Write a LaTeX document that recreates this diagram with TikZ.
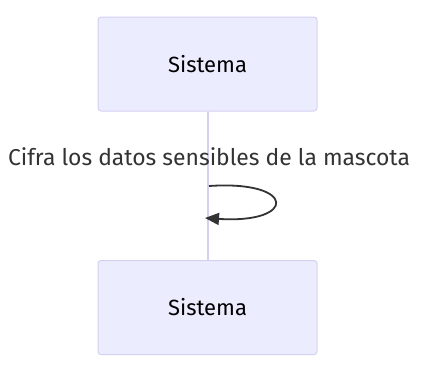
\documentclass[tikz,border=0pt]{standalone}
\usepackage{fontspec}
\setmainfont{Fira Sans}
\usetikzlibrary{arrows.meta}
\definecolor{actorfill}{HTML}{ECECFF}
\definecolor{actorline}{HTML}{D4D0F2}
\definecolor{msgtext}{HTML}{333333}
\tikzset{
  actor/.style={draw=actorline, fill=actorfill, line width=1pt, rounded corners=3pt,
    minimum width=219pt, minimum height=94pt, inner sep=0pt, font=\fontsize{22}{26}\selectfont},
  lifeline/.style={draw=actorline, line width=2pt},
  msg/.style={draw=msgtext, line width=1.8pt, -{Triangle[length=14pt,width=12pt]}},
}
\begin{document}
\begin{tikzpicture}[x=1pt,y=-1pt]
  \useasboundingbox (0,0) rectangle (427,376);
  \node[actor] (top) at (207.5,64) {Sistema};
  \node[actor] (bot) at (207.5,307.5) {Sistema};
  \draw[lifeline] (top.south) -- (bot.north);
  \node[font=\fontsize{22.9}{27}\selectfont, text=msgtext] (lbl) at (209,157) {Cifra los datos sensibles de la mascota};
  \coordinate (s) at (209,186);
  \coordinate (e) at (205,218);
  \draw[msg] (s) .. controls (297,180) and (297,224) .. (e);
\end{tikzpicture}
\end{document}
